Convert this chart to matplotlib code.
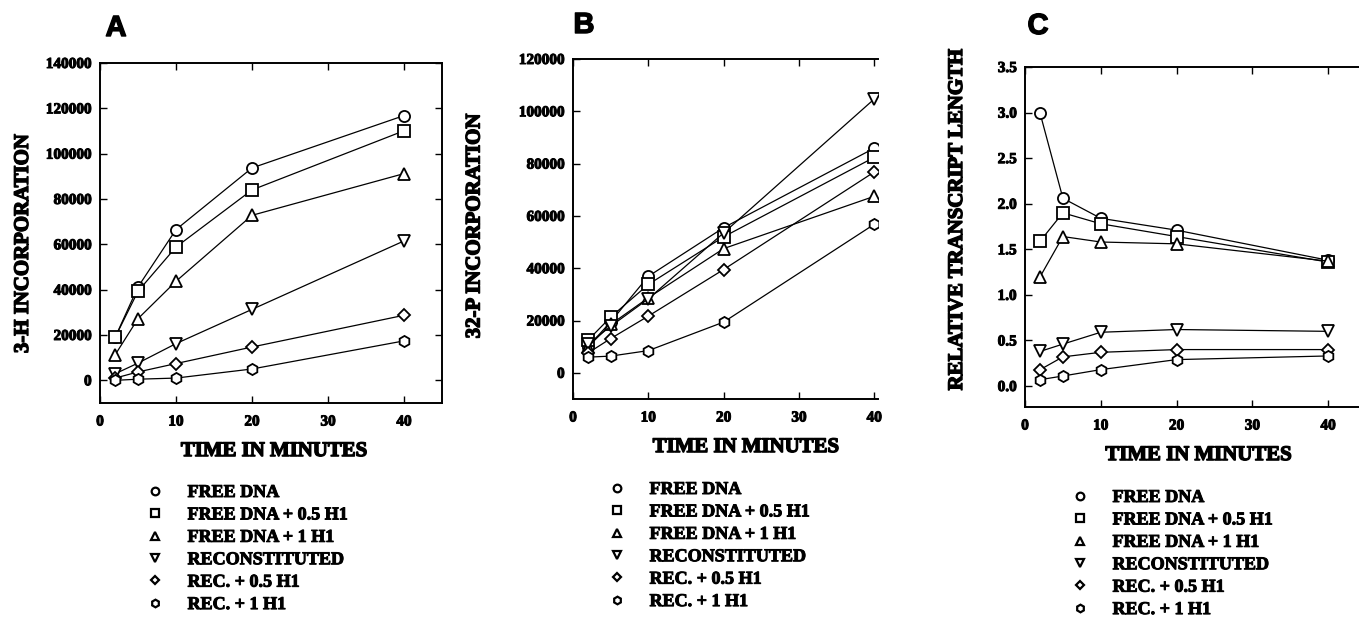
import matplotlib
matplotlib.use("Agg")
import matplotlib.pyplot as plt
from matplotlib.lines import Line2D
import matplotlib.patheffects as pe

# ---- data ----
time_min = [2, 5, 10, 20, 40]
series_labels = ["FREE DNA", "FREE DNA + 0.5 H1", "FREE DNA + 1 H1",
                 "RECONSTITUTED", "REC. + 0.5 H1", "REC. + 1 H1"]
series_markers = ["o", "s", "^", "v", "D", "h"]

h3_free = [19000, 41200, 66500, 93700, 116800]
h3_free_05 = [19000, 39300, 58800, 84000, 110100]
h3_free_1 = [11300, 27200, 43700, 72800, 91200]
h3_rec = [2900, 7600, 16200, 31300, 61500]
h3_rec_05 = [1000, 3700, 7400, 14700, 28700]
h3_rec_1 = [0, 500, 1000, 5000, 17400]

p32_free = [10000, 19500, 36900, 55500, 85900]
p32_free_05 = [12500, 21300, 33800, 52000, 82400]
p32_free_1 = [10000, 18500, 28700, 47500, 67500]
p32_rec = [11000, 17800, 28300, 53500, 104700]
p32_rec_05 = [7600, 13100, 21700, 39500, 76800]
p32_rec_1 = [6000, 6400, 8500, 19400, 56800]

len_free = [2.99, 2.06, 1.84, 1.71, 1.38]
len_free_05 = [1.59, 1.90, 1.78, 1.64, 1.36]
len_free_1 = [1.20, 1.64, 1.58, 1.56, 1.37]
len_rec = [0.38, 0.46, 0.59, 0.62, 0.60]
len_rec_05 = [0.18, 0.32, 0.37, 0.40, 0.40]
len_rec_1 = [0.07, 0.11, 0.18, 0.29, 0.33]

panel_A = [h3_free, h3_free_05, h3_free_1, h3_rec, h3_rec_05, h3_rec_1]
panel_B = [p32_free, p32_free_05, p32_free_1, p32_rec, p32_rec_05, p32_rec_1]
panel_C = [len_free, len_free_05, len_free_1, len_rec, len_rec_05, len_rec_1]

A_yticks = [0, 20000, 40000, 60000, 80000, 100000, 120000, 140000]
B_yticks = [0, 20000, 40000, 60000, 80000, 100000, 120000]
C_yticks = [0.0, 0.5, 1.0, 1.5, 2.0, 2.5, 3.0, 3.5]
C_yticklabels = ["0.0", "0.5", "1.0", "1.5", "2.0", "2.5", "3.0", "3.5"]
x_ticks = [0, 10, 20, 30, 40]

# ---- style ----
serif = ["Liberation Serif", "DejaVu Serif"]
plt.rcParams["font.family"] = serif
plt.rcParams["font.weight"] = "bold"

HEAVY_S = [pe.withStroke(linewidth=0.7, foreground="black")]
HEAVY_L = [pe.withStroke(linewidth=1.0, foreground="black")]

W, H = 1359, 622
fig = plt.figure(figsize=(W / 100, H / 100), dpi=100)


def px_axes(left, right, top, bottom):
    return fig.add_axes([left / W, (H - bottom) / H, (right - left) / W, (bottom - top) / H])


def style_axes(ax, yticks, ylabels=None):
    ax.set_xticks(x_ticks)
    ax.set_yticks(yticks)
    if ylabels is not None:
        ax.set_yticklabels(ylabels)
    ax.tick_params(direction="in", length=5, width=1, top=True, right=True,
                   labelsize=11)
    ax.tick_params(axis="x", pad=9)
    ax.tick_params(axis="y", pad=6)
    for lab in ax.get_xticklabels() + ax.get_yticklabels():
        lab.set_fontweight("bold")
        lab.set_path_effects(HEAVY_S)
    for s in ax.spines.values():
        s.set_linewidth(1.4)


def plot_series(ax, data):
    for vals, m in zip(data, series_markers):
        ms = 8 if m in ("o", "h", "s") else 8.5
        if m == "D":
            ms = 6.5
        ax.plot(time_min, vals, color="black", lw=0.9, marker=m, ms=ms,
                mfc="white", mec="black", mew=1.3)


def set_labels(ax, xl, yl, xcoord, ycoord):
    ax.set_xlabel(xl, fontsize=15, fontweight="bold", path_effects=HEAVY_L)
    ax.set_ylabel(yl, fontsize=15, fontweight="bold", path_effects=HEAVY_L)
    ax.xaxis.set_label_coords(*xcoord)
    ax.yaxis.set_label_coords(*ycoord)


def add_legend(ax, x_px, y_px):
    handles = [Line2D([], [], ls="none", marker=m, ms=5.5 if m != "D" else 4.5,
                      mfc="white", mec="black", mew=1.6) for m in series_markers]
    leg = ax.legend(handles, series_labels, loc="upper left",
                    bbox_to_anchor=(x_px / W, (H - y_px) / H),
                    bbox_transform=fig.transFigure, frameon=False,
                    prop={"family": serif, "weight": "bold", "size": 13},
                    handlelength=1.0, handletextpad=1.3, labelspacing=0.3,
                    borderpad=0, borderaxespad=0)
    for t in leg.get_texts():
        t.set_path_effects(HEAVY_S)
    return leg


def panel_letter(x, y, s):
    fig.text(x / W, (H - y) / H, s, family=["Liberation Sans", "DejaVu Sans"],
             fontweight="bold", fontsize=21, ha="center", va="center",
             path_effects=[pe.withStroke(linewidth=1.0, foreground="black")])


# Panel A
axA = px_axes(100, 442, 63, 403)
plot_series(axA, panel_A)
axA.set_xlim(0, 45)
axA.set_ylim(-10000, 140000)
style_axes(axA, A_yticks)
set_labels(axA, "TIME IN MINUTES", "3-H INCORPORATION", (0.51, -0.112), (-0.196, 0.47))
panel_letter(116, 28, "A")
add_legend(axA, 146, 484)

# Panel B (right side cropped in the original)
axB = px_axes(573, 878, 59, 399)
plot_series(axB, panel_B)
axB.set_xlim(0, 40.5)
axB.set_ylim(-10000, 120000)
style_axes(axB, B_yticks)
axB.spines["right"].set_visible(False)
axB.tick_params(right=False)
set_labels(axB, "TIME IN MINUTES", "32-P INCORPORATION", (0.568, -0.112), (-0.29, 0.51))
panel_letter(584, 25, "B")
add_legend(axB, 608, 481)

# Panel C (extends beyond right edge)
axC = px_axes(1025, 1366, 67, 407)
plot_series(axC, panel_C)
axC.set_xlim(0, 45)
axC.set_ylim(-0.23, 3.5)
style_axes(axC, C_yticks, C_yticklabels)
set_labels(axC, "TIME IN MINUTES", "RELATIVE TRANSCRIPT LENGTH", (0.51, -0.112), (-0.17, 0.553))
panel_letter(1038, 26, "C")
add_legend(axC, 1071, 489)

fig.savefig("out.png", dpi=100, facecolor="white")
